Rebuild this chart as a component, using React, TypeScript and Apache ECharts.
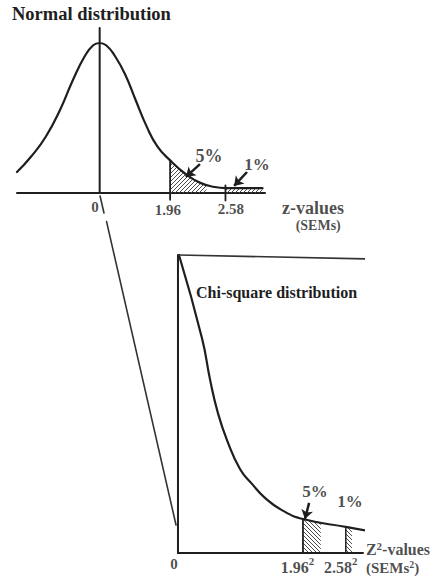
import { useEffect, useRef } from "react";
import * as echarts from "echarts";

const FONT = '"Liberation Serif", "Times New Roman", serif';
const INK = "#1e1e1e";

// ---- Top panel: normal distribution (x: schematic SEM units, y: density)
const normalX = [-2.3, -1.9, -1.5, -1.1, -0.75, -0.42, -0.18, 0, 0.18, 0.42, 0.7, 1.0, 1.3, 1.6, 1.96, 2.4, 2.8, 3.2, 3.5, 4.53];
const normalY = [0.056, 0.098, 0.15, 0.222, 0.3, 0.364, 0.394, 0.4, 0.394, 0.366, 0.318, 0.248, 0.179, 0.125, 0.087, 0.05, 0.027, 0.016, 0.013, 0.013];
const normalTail5X = [1.96, 2.4, 2.8, 2.97];
const normalTail5Y = [0.087, 0.05, 0.027, 0.021];
const normalTail1X = [3.5, 4.53];
const normalTail1Y = [0.013, 0.013];
const normalTickPos = [1.96, 3.5];
const normalTickLabels = ["0", "1.96", "2.58"];

// ---- Bottom panel: chi-square distribution
const chiX = [0.03, 0.74, 0.99, 1.23, 1.51, 1.91, 2.28, 2.68, 3.2, 3.85, 5.21, 6.07];
const chiY = [1.0, 0.721, 0.581, 0.47, 0.379, 0.282, 0.232, 0.185, 0.144, 0.114, 0.087, 0.07];
const chiTopX = [0.03, 5.82];
const chiTopY = [1.0, 0.987];
const chiTail5X = [3.85, 4.4];
const chiTail5Y = [0.113, 0.104];
const chiTail1X = [5.17, 5.36];
const chiTail1Y = [0.088, 0.086];
const chiTickPos = [3.85, 5.17];
const chiTickLabels = ["0", "1.96", "2.58"];
// connector from the normal curve's 0 down to the chi-square origin (drawn with a small break)
const linkAX = [-2.4, -2.28];
const linkAY = [1.198, 1.141];
const linkBX = [-2.2, -0.06];
const linkBY = [1.112, 0.094];

const zip = (xs: number[], ys: number[]) => xs.map((x, i) => [x, ys[i]]);

function hatch(dir: number) {
  const c = document.createElement("canvas");
  c.width = 4;
  c.height = 4;
  const g = c.getContext("2d")!;
  g.strokeStyle = "#4a4a4a";
  g.lineWidth = 1;
  g.beginPath();
  if (dir > 0) {
    g.moveTo(-1, 5); g.lineTo(5, -1);
    g.moveTo(-1, 1); g.lineTo(1, -1);
    g.moveTo(3, 5); g.lineTo(5, 3);
  } else {
    g.moveTo(-1, -1); g.lineTo(5, 5);
    g.moveTo(3, -1); g.lineTo(5, 1);
    g.moveTo(-1, 3); g.lineTo(1, 5);
  }
  g.stroke();
  return c;
}

function line(gi: number, data: number[][], width = 2, color = INK, smooth: any = false): any {
  return {
    type: "line",
    xAxisIndex: gi,
    yAxisIndex: gi,
    data,
    symbol: "none",
    clip: false,
    smooth,
    silent: true,
    lineStyle: { color, width, cap: "round", join: "round" },
    z: 3,
  };
}

function area(gi: number, data: number[][], pattern: any): any {
  return {
    type: "line",
    xAxisIndex: gi,
    yAxisIndex: gi,
    data,
    symbol: "none",
    clip: false,
    smooth: true,
    silent: true,
    lineStyle: { width: 0, opacity: 0 },
    areaStyle: { color: { image: pattern, repeat: "repeat" }, opacity: 1 },
    z: 2,
  };
}

const txt = (size: number, extra: any = {}) => ({
  fontFamily: FONT,
  fontWeight: "bold",
  fontSize: size,
  color: INK,
  ...extra,
});

type Lab = { x: number; y: number; t: string; size: number; align?: string; lh?: number };

function labels(gi: number, items: Lab[]): any {
  return {
    type: "scatter",
    xAxisIndex: gi,
    yAxisIndex: gi,
    symbolSize: 0,
    clip: false,
    silent: true,
    z: 5,
    data: items.map((it) => {
      const lh = it.size + (it.lh ?? 4);
      return {
        value: [it.x, it.y],
        label: {
          show: true,
          position: "inside",
          formatter: it.t,
          align: it.align || "center",
          verticalAlign: "middle",
          ...txt(it.size),
          rich: {
            b: txt(it.size, { verticalAlign: "bottom", lineHeight: lh }),
            s: txt(Math.round(it.size * 0.66), { verticalAlign: "top", lineHeight: lh }),
          },
        },
      };
    }),
  };
}

function arrows(gi: number, pairs: number[][][]): any {
  return {
    type: "line",
    xAxisIndex: gi,
    yAxisIndex: gi,
    data: [],
    symbol: "none",
    silent: true,
    z: 6,
    markLine: {
      silent: true,
      symbol: ["none", "arrow"],
      symbolSize: 9,
      label: { show: false },
      lineStyle: { color: INK, width: 2.5, type: "solid" },
      data: pairs.map((p) => [{ coord: p[0] }, { coord: p[1] }]),
    },
  };
}

export default function App() {
  const ref = useRef<HTMLDivElement>(null);
  useEffect(() => {
    if (!ref.current) return;
    const chart = echarts.init(ref.current, undefined, { renderer: "svg" });
    const hatchA = hatch(1);
    const hatchB = hatch(-1);
    const axisCommon = {
      type: "value",
      axisTick: { show: false },
      axisLabel: { show: false },
      splitLine: { show: false },
      axisLine: { show: false },
    };
    const option: any = {
      animation: false,
      backgroundColor: "#ffffff",
      grid: [
        { left: 17, top: 28, width: 248, height: 165, outerBoundsMode: "none" },
        { left: 95.2, top: 192.42, width: 267.8, height: 360.58, outerBoundsMode: "none" },
      ],
      xAxis: [
        { ...axisCommon, gridIndex: 0, min: -2.3, max: 4.6, axisLine: { show: true, onZero: false, lineStyle: { color: INK, width: 2 } } },
        { ...axisCommon, gridIndex: 1, min: -2.55, max: 5.7 },
      ],
      yAxis: [
        { ...axisCommon, gridIndex: 0, min: 0, max: 0.44 },
        { ...axisCommon, gridIndex: 1, min: 0, max: 1.21 },
      ],
      graphic: [
        { type: "text", left: 12, top: 4, style: { text: "Normal distribution", font: `bold 18.5px ${FONT}`, fill: INK } },
        { type: "text", left: 196, top: 284, style: { text: "Chi-square distribution", font: `bold 16px ${FONT}`, fill: INK } },
      ],
      series: [
        // top panel
        area(0, zip(normalTail5X, normalTail5Y), hatchA),
        area(0, zip(normalTail1X, normalTail1Y), hatchA),
        line(0, zip(normalX, normalY), 2.2, INK, true),
        line(0, [[0, 0], [0, 0.44]], 2),
        line(0, [[normalTickPos[0], -0.018], [normalTickPos[0], 0.087]], 1.8),
        line(0, [[normalTickPos[1], -0.02], [normalTickPos[1], 0.02]], 1.8),
        arrows(0, [
          [[2.79, 0.077], [2.4, 0.043]],
          [[4.1, 0.056], [3.74, 0.019]],
        ]),
        labels(0, [
          { x: -0.13, y: -0.037, t: normalTickLabels[0], size: 15 },
          { x: 1.9, y: -0.045, t: normalTickLabels[1], size: 15 },
          { x: 3.65, y: -0.043, t: normalTickLabels[2], size: 15 },
          { x: 5.07, y: -0.041, t: "z-values", size: 18, align: "left" },
          { x: 6.08, y: -0.086, t: "(SEMs)", size: 14 },
          { x: 3.04, y: 0.099, t: "5%", size: 18 },
          { x: 4.38, y: 0.077, t: "1%", size: 17 },
        ]),
        // bottom panel
        area(1, zip(chiTail5X, chiTail5Y), hatchB),
        area(1, zip(chiTail1X, chiTail1Y), hatchB),
        line(1, [[0, 0], [5.7, 0]], 2),
        line(1, [[0, 0], [0, 1]], 2),
        line(1, zip(chiX, chiY), 2.2, INK, true),
        line(1, zip(chiTopX, chiTopY), 1.6, "#333"),
        line(1, zip(linkAX, linkAY), 1.6, "#333"),
        line(1, zip(linkBX, linkBY), 1.6, "#333"),
        line(1, [[chiTickPos[0], 0], [chiTickPos[0], 0.114]], 1.8),
        line(1, [[chiTickPos[1], 0], [chiTickPos[1], 0.088]], 1.5),
        arrows(1, [[[4.04, 0.168], [3.91, 0.114]]]),
        labels(1, [
          { x: -0.12, y: -0.037, t: chiTickLabels[0], size: 15 },
          { x: 3.17, y: -0.042, t: `{b|${chiTickLabels[1]}}{s|2}`, size: 16, align: "left" },
          { x: 4.5, y: -0.042, t: `{b|${chiTickLabels[2]}}{s|2}`, size: 16, align: "left" },
          { x: 5.79, y: 0.012, t: "{b|Z}{s|2}{b|-values}", size: 16, align: "left", lh: 1 },
          { x: 5.79, y: -0.048, t: "{b|(SEMs}{s|2}{b|)}", size: 15, align: "left", lh: 1 },
          { x: 4.22, y: 0.205, t: "5%", size: 17 },
          { x: 5.3, y: 0.174, t: "1%", size: 17 },
        ]),
      ],
    };
    chart.setOption(option);
    return () => chart.dispose();
  }, []);
  return (
    <div
      ref={ref}
      style={{ position: "fixed", left: 0, top: 0, width: 430, height: 577, background: "#fff" }}
    />
  );
}
